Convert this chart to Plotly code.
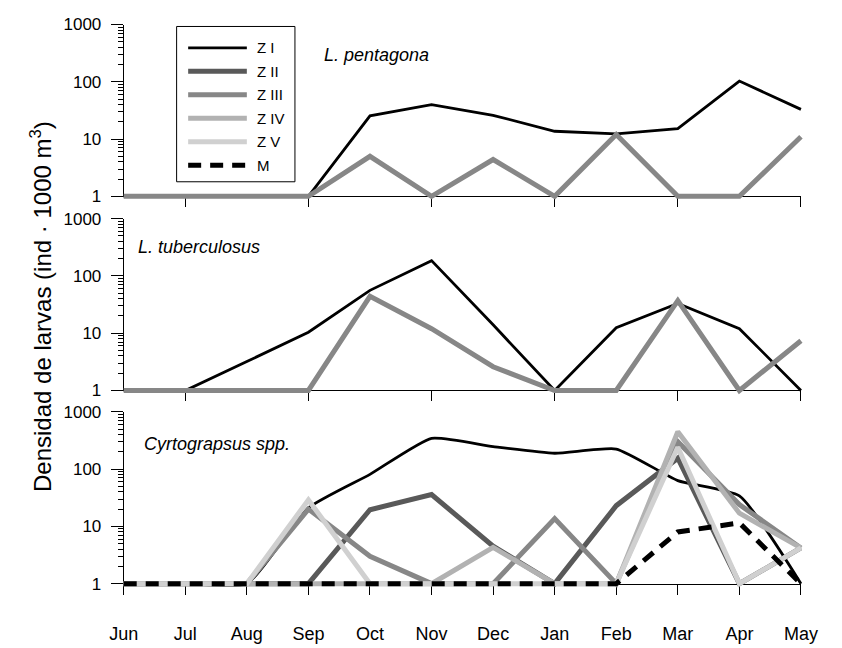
import plotly.graph_objects as go

# ---- data -------------------------------------------------------------
months = ["Jun", "Jul", "Aug", "Sep", "Oct", "Nov", "Dec", "Jan", "Feb", "Mar", "Apr", "May"]

# L. pentagona
pent_z1 = [1, 1, 1, 1, 25.5, 40, 26, 13.7, 12.3, 15.2, 103, 33]
pent_z3 = [1, 1, 1, 1, 5.0, 1, 4.4, 1, 12, 1, 1, 11]

# L. tuberculosus
tub_z1 = [1, 1, 3.2, 10.4, 56, 185, 14, 1, 12.5, 33, 12, 1]
tub_z3 = [1, 1, 1, 1, 44, 12, 2.6, 1, 1, 37, 1, 7.4]

# Cyrtograpsus spp.
cyr_z1 = [1, 1, 1, 21, 81, 345, 247, 189, 224, 63, 34, 1]
cyr_z2 = [1, 1, 1, 1, 19.5, 36, 4.5, 1, 23, 155, 1, 4.2]
cyr_z3 = [1, 1, 1, 20, 3, 1, 1, 13.7, 1, 300, 24, 4.2]
cyr_z4 = [1, 1, 1, 1, 1, 1, 4.3, 1, 1, 450, 17, 4.2]
cyr_z5 = [1, 1, 1, 29, 1, 1, 1, 1, 1, 240, 1, 4.2]
cyr_m = [1, 1, 1, 1, 1, 1, 1, 1, 1, 8, 11.5, 1]

species = ["L. pentagona", "L. tuberculosus", "Cyrtograpsus spp."]
stage_names = ["Z I", "Z II", "Z III", "Z IV", "Z V", "M"]
y_title = "Densidad de larvas (ind · 1000 m<sup>3</sup>)"

# ---- styling ----------------------------------------------------------
W, H = 842, 648
FONT = "Liberation Sans, Arial, sans-serif"
styles = {
    "Z I": dict(color="#000000", width=2.8),
    "Z II": dict(color="#595959", width=5),
    "Z III": dict(color="#878787", width=5),
    "Z IV": dict(color="#b2b2b2", width=5),
    "Z V": dict(color="#d0d0d0", width=5),
    "M": dict(color="#000000", width=5, dash="13px,9px"),
}

panels = [
    {"Z I": pent_z1, "Z III": pent_z3},
    {"Z I": tub_z1, "Z III": tub_z3},
    {"Z I": cyr_z1, "Z II": cyr_z2, "Z III": cyr_z3, "Z IV": cyr_z4, "Z V": cyr_z5, "M": cyr_m},
]
smooth = {(2, "Z I")}

# pixel geometry of the three stacked panels
x_left, x_right = 113, 817            # Jun .. May
px_per_month = (x_right - x_left) / 11
bottoms = [193, 393, 592]             # pixel row of value 1
px_per_decade = 59
pad = 10                              # room so thick lines at the edges are not clipped


def fx(p):
    return p / W


def fy(p):
    return 1 - p / H


fig = go.Figure()
layout = {}

for i, yb in enumerate(bottoms):
    top = yb - 3 * px_per_decade
    n_disp = i + 1          # axes that carry lines / ticks / labels
    n_data = i + 4          # axes that carry the series
    sx_d = "" if n_disp == 1 else str(n_disp)
    sx = str(n_data)

    # display axes
    last = i == 2
    xa = dict(
        domain=[fx(x_left), fx(x_right)], range=[0, 11], anchor="y" + sx_d,
        showline=True, linecolor="black", linewidth=1, showgrid=False, zeroline=False,
        ticks="outside", ticklen=10, tickcolor="black", tickwidth=1,
        tickmode="array",
        tickvals=list(range(12)) if last else [1, 3, 5, 7, 9, 11],
        showticklabels=last, ticklabelstandoff=24,
        tickfont=dict(family=FONT, size=18, color="black"),
    )
    if last:
        xa["ticktext"] = months
    layout["xaxis" + sx_d] = xa
    layout["yaxis" + sx_d] = dict(
        domain=[fy(yb), fy(top)], type="log", range=[0, 3], anchor="x" + sx_d,
        showline=True, linecolor="black", linewidth=1, showgrid=False, zeroline=False,
        ticks="outside", ticklen=12, tickcolor="black", tickwidth=1,
        tickmode="array", tickvals=[1, 10, 100, 1000], ticktext=["1", "10", "100", "1000"],
        ticklabelstandoff=6,
        tickfont=dict(family=FONT, size=17, color="black"),
        minor=dict(
            tickmode="array",
            tickvals=[m * 10 ** d for d in range(3) for m in range(2, 10)],
            ticks="outside", ticklen=5, tickcolor="black", showgrid=False,
        ),
    )
    fig.add_trace(go.Scatter(x=[0], y=[None], xaxis="x" + sx_d, yaxis="y" + sx_d,
                             showlegend=False, hoverinfo="skip", mode="lines"))

    # data axes: same scale as the display axes, extended so edges are not clipped
    layout["xaxis" + sx] = dict(
        domain=[fx(x_left - pad), fx(x_right + pad)],
        range=[-pad / px_per_month, 11 + pad / px_per_month],
        type="category", categoryorder="array", categoryarray=months,
        visible=False, anchor="y" + sx,
    )
    layout["yaxis" + sx] = dict(
        domain=[fy(yb + pad), fy(top - pad)], type="log",
        range=[-pad / px_per_decade, 3 + pad / px_per_decade],
        visible=False, anchor="x" + sx,
    )
    for name in stage_names:
        if name not in panels[i]:
            continue
        st = dict(styles[name])
        if (i, name) in smooth:
            st.update(shape="spline", smoothing=0.5)
        fig.add_trace(go.Scatter(
            x=months, y=panels[i][name], mode="lines", name=name,
            line=st, xaxis="x" + sx, yaxis="y" + sx, showlegend=False,
        ))

# ---- legend (drawn in the first panel) -------------------------------
shapes = [dict(type="rect", xref="paper", yref="paper",
               x0=fx(168), x1=fx(291), y0=fy(178), y1=fy(18),
               line=dict(color="black", width=1), fillcolor="white", layer="above")]
annotations = []
for k, name in enumerate(stage_names):
    yy = 40 + k * 24.2
    st = styles[name]
    shapes.append(dict(type="line", xref="paper", yref="paper",
                       x0=fx(180), x1=fx(241), y0=fy(yy), y1=fy(yy),
                       line=dict(color=st["color"], width=st["width"],
                                 dash=st.get("dash", "solid")),
                       layer="above"))
    annotations.append(dict(text=name, xref="paper", yref="paper", x=fx(250), y=fy(yy),
                            xanchor="left", yanchor="middle", showarrow=False,
                            font=dict(family=FONT, size=15, color="black")))

# species names
for txt, (px, py) in zip(species, [(319, 47), (126, 245), (132, 448)]):
    annotations.append(dict(text="<i>%s</i>" % txt, xref="paper", yref="paper",
                            x=fx(px), y=fy(py), xanchor="left", yanchor="middle",
                            showarrow=False, font=dict(family=FONT, size=18, color="black")))

# y axis title shared by the three panels
annotations.append(dict(text=y_title, xref="paper", yref="paper", x=fx(27), y=fy(306),
                        xanchor="center", yanchor="middle", textangle=-90, showarrow=False,
                        font=dict(family=FONT, size=24, color="black")))

fig.update_layout(
    **layout,
    width=W, height=H, margin=dict(l=0, r=0, t=0, b=0),
    paper_bgcolor="white", plot_bgcolor="rgba(0,0,0,0)",
    shapes=shapes, annotations=annotations, showlegend=False,
    font=dict(family=FONT, color="black"),
)

fig.write_html("out.html")
